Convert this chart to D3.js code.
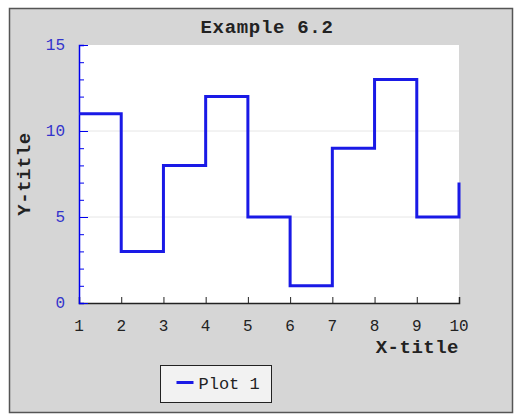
<!DOCTYPE html>
<html>
<head>
<meta charset="utf-8">
<script src="https://cdn.jsdelivr.net/npm/d3@7"></script>
<style>
  body { margin: 0; background: #fff; }
  svg text { font-family: "Liberation Mono", "DejaVu Sans Mono", monospace; }
</style>
</head>
<body>
<div id="chart"></div>
<script>
// data
let xValues = [1, 2, 3, 4, 5, 6, 7, 8, 9, 10];
let yValues = [11, 3, 8, 12, 5, 1, 9, 13, 5, 7];
let xTicks = [1, 2, 3, 4, 5, 6, 7, 8, 9, 10];
let yTicks = [0, 5, 10, 15];
let yMinorTicks = d3.range(0, 16);

let win_width = 517, win_height = 414;
let margin = {top: 45, right: 58, bottom: 111, left: 79};
let width = win_width - margin.left - margin.right;
let height = win_height - margin.top - margin.bottom;

let svg = d3.select("#chart")
    .append("svg")
    .attr("width", win_width)
    .attr("height", win_height);

// frame
svg.append("rect")
    .attr("x", 9.5).attr("y", 8.5)
    .attr("width", 503).attr("height", 404)
    .attr("fill", "#d6d6d6")
    .attr("stroke", "#555")
    .attr("stroke-width", 1.5);

let g = svg.append("g")
    .attr("transform", "translate(" + margin.left + "," + margin.top + ")");

let x = d3.scaleLinear().domain([1, 10]).range([0, width]);
let y = d3.scaleLinear().domain([0, 15]).range([height, 0]);

// plot area
g.append("rect")
    .attr("x", 0).attr("y", 0)
    .attr("width", width).attr("height", height)
    .attr("fill", "#ffffff");

// grid lines
g.selectAll(".grid")
    .data([5, 10])
    .join("line")
    .attr("x1", 0).attr("x2", width)
    .attr("y1", d => y(d)).attr("y2", d => y(d))
    .attr("stroke", "#e6e6e6")
    .attr("stroke-width", 1);

// title
svg.append("text")
    .attr("x", 267).attr("y", 33)
    .attr("text-anchor", "middle")
    .attr("font-size", 19)
    .attr("font-weight", "bold")
    .attr("letter-spacing", 0.7)
    .attr("fill", "#222")
    .text("Example 6.2");

// X axis
let xAxis = g.append("g")
    .attr("transform", "translate(0," + height + ")")
    .call(d3.axisTop(x).tickValues(xTicks).tickSize(6).tickFormat(""));
xAxis.select(".domain").attr("stroke", "#222").attr("stroke-width", 1.5);
xAxis.selectAll(".tick line").attr("stroke", "#222");

g.selectAll(".xlabel")
    .data(xTicks)
    .join("text")
    .attr("x", d => x(d))
    .attr("y", height + 28)
    .attr("text-anchor", "middle")
    .attr("font-size", 16)
    .attr("fill", "#222")
    .text(d => d);

g.append("text")
    .attr("x", width)
    .attr("y", height + 50)
    .attr("text-anchor", "end")
    .attr("font-size", 19)
    .attr("font-weight", "bold")
    .attr("letter-spacing", 0.5)
    .attr("fill", "#222")
    .text("X-title");

// Y axis
let yMinor = g.append("g")
    .call(d3.axisRight(y).tickValues(yMinorTicks).tickSize(5).tickFormat(""));
yMinor.select(".domain").attr("stroke", "#0000ee").attr("stroke-width", 1.5);
yMinor.selectAll(".tick line").attr("stroke", "#0000ee");

let yMajor = g.append("g")
    .call(d3.axisRight(y).tickValues(yTicks).tickSize(9).tickFormat(""));
yMajor.select(".domain").remove();
yMajor.selectAll(".tick line").attr("stroke", "#0000ee");

g.selectAll(".ylabel")
    .data(yTicks)
    .join("text")
    .attr("x", -14)
    .attr("y", d => y(d) + 5)
    .attr("text-anchor", "end")
    .attr("font-size", 16)
    .attr("fill", "#3333cc")
    .text(d => d);

svg.append("text")
    .attr("transform", "translate(30," + (margin.top + height / 2) + ") rotate(-90)")
    .attr("text-anchor", "middle")
    .attr("font-size", 19)
    .attr("font-weight", "bold")
    .attr("letter-spacing", 0.5)
    .attr("fill", "#222")
    .text("Y-title");

// step line
let points = xValues.map((d, i) => [d, yValues[i]]);
g.append("path")
    .datum(points)
    .attr("fill", "none")
    .attr("stroke", "#1a1ae6")
    .attr("stroke-width", 3)
    .attr("d", d3.line()
        .curve(d3.curveStepAfter)
        .x(d => x(d[0]))
        .y(d => y(d[1])));

// legend
let legend = svg.append("g").attr("transform", "translate(160.5,365.5)");
legend.append("rect")
    .attr("width", 111).attr("height", 37)
    .attr("fill", "#f2f2f2")
    .attr("stroke", "#222")
    .attr("stroke-width", 1);
legend.append("line")
    .attr("x1", 16).attr("x2", 33)
    .attr("y1", 17).attr("y2", 17)
    .attr("stroke", "#1a1ae6")
    .attr("stroke-width", 3);
legend.append("text")
    .attr("x", 38).attr("y", 23)
    .attr("font-size", 17)
    .attr("fill", "#222")
    .text("Plot 1");
</script>
</body>
</html>
